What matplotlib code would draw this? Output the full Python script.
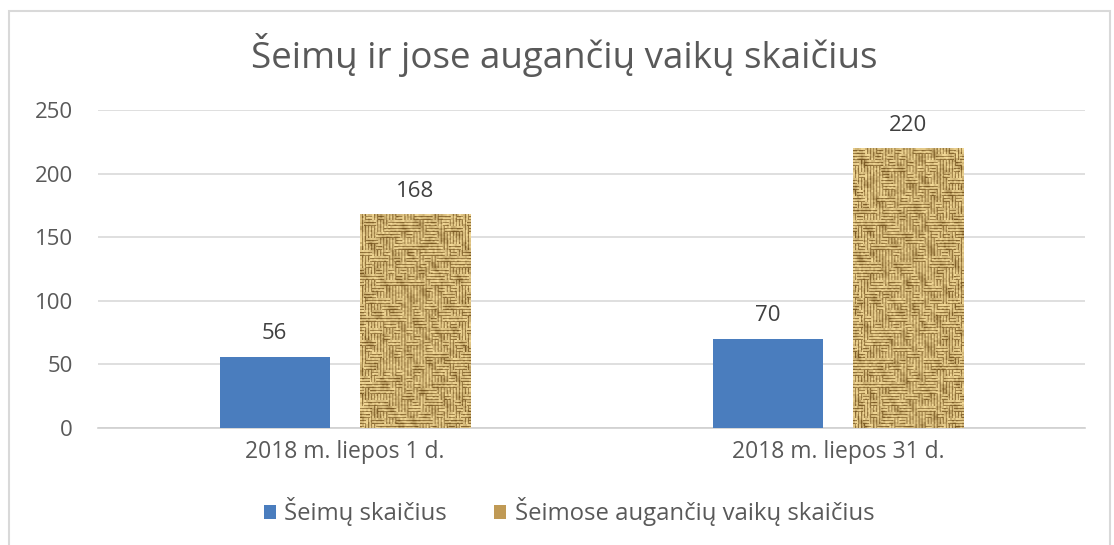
import numpy as np
import matplotlib
matplotlib.use("Agg")
import matplotlib.pyplot as plt
from matplotlib.patches import Rectangle, Patch

categories = ["2018 m. liepos 1 d.", "2018 m. liepos 31 d."]
series_names = ["Šeimų skaičius", "Šeimose augančių vaikų skaičius"]
families = [56, 70]
children = [168, 220]
yticks = [0, 50, 100, 150, 200, 250]
title = "Šeimų ir jose augančių vaikų skaičius"

plt.rcParams['font.family'] = ['Open Sans', 'DejaVu Sans']
W, H = 1114, 545
fig = plt.figure(figsize=(W / 100, H / 100), dpi=100)
fig.patch.set_facecolor("white")

# outer chart border
fig.add_artist(Rectangle((9 / W, -0.01), (1110 - 9) / W, 1 - 11 / H + 0.01,
                         transform=fig.transFigure, fill=False,
                         edgecolor="#d9d9d9", linewidth=1.5))

ax = fig.add_axes([98 / W, 1 - 428 / H, (1085 - 98) / W, (428 - 110) / H])

x = np.arange(len(categories))
bw = 0.223
off = 0.142
blue = "#4A7DBE"

b1 = ax.bar(x - off, families, width=bw, color=blue, zorder=3)
b2 = ax.bar(x + off, children, width=bw, color="#c9a96a", zorder=3)


def hash2(a, b, s=0.0):
    v = np.sin(a * 12.9898 + b * 78.233 + s) * 43758.5453
    return v - np.floor(v)


def burlap(nx, ny, seed):
    yy, xx = np.mgrid[0:ny, 0:nx]
    cell = 6
    bx, by = (xx + 2 * (yy // 6 % 2)) // cell, yy // cell
    horiz = hash2(bx, by, seed) > 0.5
    stripe_h = (yy % 3 == 2)
    stripe_v = (xx % 3 == 2)
    gap = np.where(horiz, stripe_h, stripe_v)
    val = np.where(gap, 0.25, 0.82)
    val = val + 0.3 * (hash2(xx // 2, yy // 2, seed + 3.0) - 0.5)
    blot = (np.sin(xx * 0.23 + yy * 0.07 + seed) * np.sin(yy * 0.19 - xx * 0.11 + 2 * seed)
            + 0.5 * np.sin(xx * 0.41 - yy * 0.31 + seed))
    val = val - 0.18 * np.clip(blot, 0, None)
    val = np.clip(val, 0, 1)
    light = np.array([0.97, 0.87, 0.61])
    dark = np.array([0.47, 0.34, 0.13])
    return dark[None, None, :] + (light - dark)[None, None, :] * val[..., None]


for i, (rect, v) in enumerate(zip(b2, children)):
    x0, y0 = rect.get_x(), rect.get_y()
    w, h = rect.get_width(), rect.get_height()
    tex = burlap(110, int(round(v * 318 / 250)), seed=1.7 * i)
    im = ax.imshow(tex, extent=(x0, x0 + w, y0, y0 + h), aspect="auto",
                   zorder=4, interpolation="bilinear")
    im.set_clip_path(rect)
ax.set_aspect("auto")
ax.set_xlim(-0.5, 1.5)
ax.set_ylim(0, 250)

for rects, vals in ((b1, families), (b2, children)):
    for r, v in zip(rects, vals):
        ax.annotate(str(v), (r.get_x() + r.get_width() / 2, v),
                    xytext=(0, 9), textcoords="offset points",
                    ha="center", va="bottom", fontsize=16, color="#404040")

ax.set_yticks(yticks)
ax.set_xticks(x)
ax.set_xticklabels(categories)
ax.tick_params(axis="both", length=0, labelsize=16, colors="#595959")
ax.tick_params(axis="x", labelsize=16.5, pad=9)
ax.tick_params(axis="y", pad=18)
ax.grid(axis="y", color="#d9d9d9", linewidth=1.2, zorder=0)
for s in ["left", "right", "top"]:
    ax.spines[s].set_visible(False)
ax.spines["bottom"].set_color("#d0d0d0")
ax.spines["bottom"].set_linewidth(1.2)

fig.text(564 / W, 1 - 55 / H, title, ha="center", va="center",
         fontsize=26.5, color="#595959")

handles = [Patch(facecolor=blue), Patch(facecolor="#c09a55")]
leg = fig.legend(handles, series_names, loc="center", bbox_to_anchor=(569 / W, 1 - 512 / H),
                 ncol=2, frameon=False, fontsize=17.2, handlelength=0.5, handleheight=0.5,
                 handletextpad=0.35, columnspacing=2.0)
for t in leg.get_texts():
    t.set_color("#595959")

fig.savefig("out.png", dpi=100)
